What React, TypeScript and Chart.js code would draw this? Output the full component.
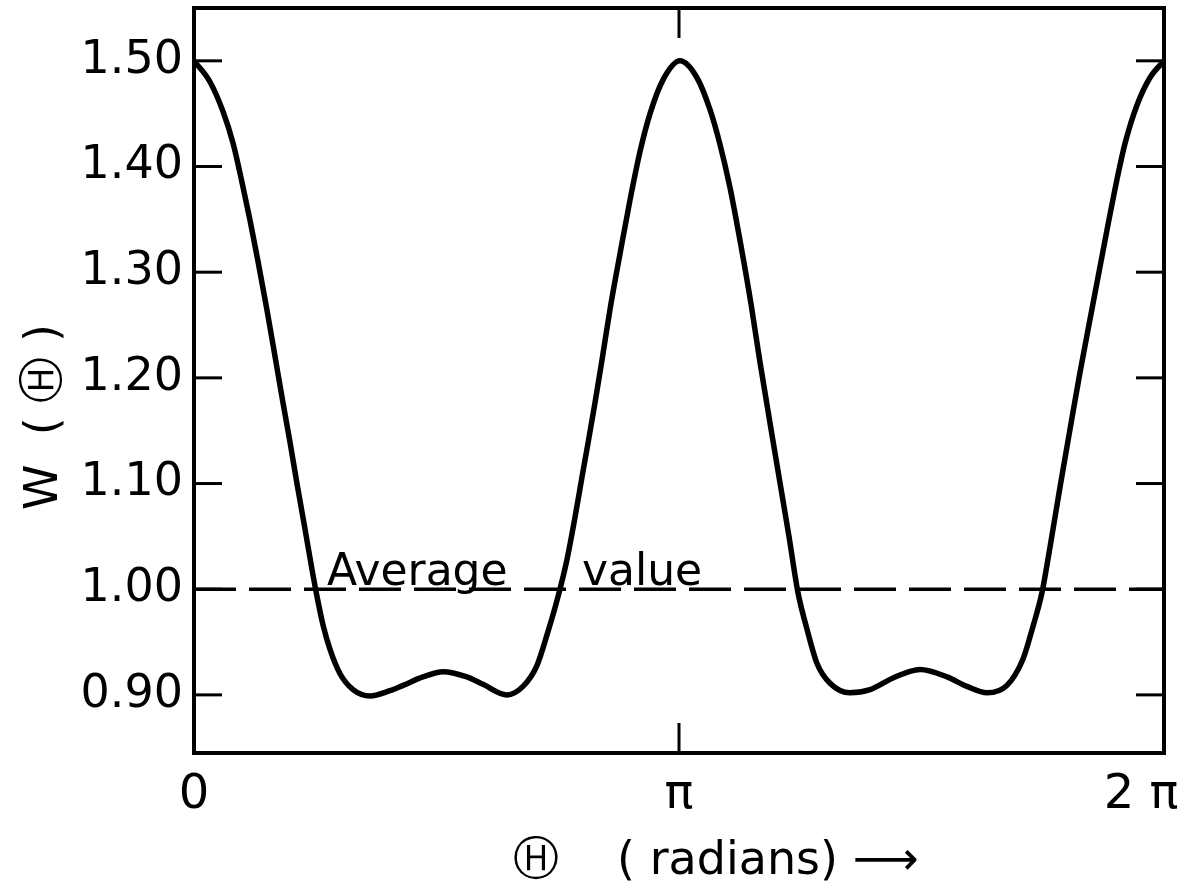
import React, { useEffect, useRef } from "react";
import { Chart, registerables } from "chart.js";

Chart.register(...registerables);

// Θ (radians)
const thetaValues = [
  0, 0.104, 0.188, 0.253, 0.311, 0.363, 0.415, 0.473, 0.538, 0.577, 0.622, 0.667, 0.719, 0.764,
  0.797, 0.836, 0.881, 0.946, 1.03, 1.14,
  1.27, 1.354, 1.483, 1.613, 1.768, 1.872, 2.027,
  2.131, 2.222, 2.287, 2.358, 2.416, 2.468, 2.513, 2.552, 2.597, 2.643, 2.695, 2.759, 2.824, 2.889,
  2.954, 3.038, 3.148,
  3.258, 3.342, 3.407, 3.472, 3.543, 3.608, 3.666, 3.776, 3.854, 3.912, 3.971, 4.035, 4.12, 4.249,
  4.379, 4.528, 4.703, 4.878, 5.007, 5.137,
  5.266, 5.37, 5.435, 5.493, 5.545, 5.61, 5.674, 5.739, 5.823, 5.914, 5.979, 6.031, 6.108, 6.192,
  6.283,
];
// W(Θ)
const wValues = [
  1.5, 1.48, 1.452, 1.422, 1.385, 1.349, 1.31, 1.264, 1.209, 1.176, 1.139, 1.1, 1.057, 1.019,
  0.993, 0.966, 0.943, 0.92, 0.905, 0.899,
  0.904, 0.909, 0.917, 0.922, 0.917, 0.91, 0.9,
  0.908, 0.928, 0.957, 0.993, 1.028, 1.068, 1.106, 1.138, 1.176, 1.217, 1.265, 1.317, 1.368, 1.414,
  1.45, 1.482, 1.5,
  1.484, 1.454, 1.421, 1.38, 1.325, 1.27, 1.215, 1.118, 1.05, 0.997, 0.962, 0.93, 0.911, 0.902,
  0.905, 0.916, 0.924, 0.917, 0.908, 0.902,
  0.909, 0.934, 0.965, 0.997, 1.04, 1.097, 1.151, 1.205, 1.27, 1.34, 1.388, 1.422, 1.458, 1.484,
  1.5,
];

const averageValue = 1.0;
const averageLine = [0, 2 * Math.PI];

const xTickValues = [0, Math.PI, 2 * Math.PI];
const xTickLabels = ["0", "π", "2 π\u00A0\u00A0\u00A0"];
const yTickValues = [0.9, 1.0, 1.1, 1.2, 1.3, 1.4, 1.5];
const yTickLabels = ["0.90", "1.00", "1.10", "1.20", "1.30", "1.40", "1.50"];

const xTitle = "\u00A0\u00A0\u00A0\u00A0\u00A0Ⓗ\u00A0\u00A0\u00A0\u00A0(\u00A0radians)\u00A0⟶";
const yTitle = "W\u00A0\u00A0(\u00A0Ⓗ\u00A0)\u00A0\u00A0\u00A0\u00A0\u00A0";

const noteTexts = ["Average", "value"];
const noteTheta = [0.861, 2.513];
const noteW = 1.004;

const FONT = '"DejaVu Sans", sans-serif';

const framePlugin = {
  id: "frameAndNotes",
  afterDatasetsDraw(chart: any) {
    const { ctx, chartArea, scales } = chart;
    const { left, right, top, bottom } = chartArea;
    const x = scales.x;
    const y = scales.y;
    ctx.save();
    ctx.strokeStyle = "#000";
    ctx.lineCap = "butt";
    ctx.lineWidth = 4;
    ctx.strokeRect(left, top, right - left, bottom - top);
    ctx.lineWidth = 3;
    const seg = (x1: number, y1: number, x2: number, y2: number) => {
      ctx.beginPath();
      ctx.moveTo(x1, y1);
      ctx.lineTo(x2, y2);
      ctx.stroke();
    };
    y.ticks.forEach((t: any) => {
      const py = y.getPixelForValue(t.value);
      seg(left, py, left + 28, py);
      seg(right, py, right - 28, py);
    });
    x.ticks.forEach((t: any) => {
      if (t.value > 0 && t.value < 2 * Math.PI) {
        const px = x.getPixelForValue(t.value);
        seg(px, bottom, px, bottom - 30);
        seg(px, top, px, top + 30);
      }
    });
    ctx.fillStyle = "#000";
    ctx.font = `44px ${FONT}`;
    ctx.textAlign = "left";
    ctx.textBaseline = "alphabetic";
    noteTexts.forEach((txt, i) => {
      ctx.fillText(txt, x.getPixelForValue(noteTheta[i]), y.getPixelForValue(noteW));
    });
    ctx.restore();
  },
};

export default function App() {
  const ref = useRef<HTMLCanvasElement | null>(null);
  useEffect(() => {
    document.body.style.margin = "0";
    const points = thetaValues.map((t, i) => ({ x: t, y: wValues[i] }));
    const avg = averageLine.map((t) => ({ x: t, y: averageValue }));
    const chart = new Chart(ref.current as HTMLCanvasElement, {
      type: "line",
      data: {
        datasets: [
          {
            data: avg,
            borderColor: "#000",
            borderWidth: 3.5,
            borderDash: [42, 13],
            pointRadius: 0,
            fill: false,
          },
          {
            data: points,
            borderColor: "#000",
            borderWidth: 5.5,
            pointRadius: 0,
            cubicInterpolationMode: "monotone",
            fill: false,
          },
        ],
      },
      options: {
        animation: false,
        responsive: true,
        maintainAspectRatio: false,
        layout: { padding: { top: 8, right: 22, left: 0, bottom: 0 } },
        plugins: { legend: { display: false }, tooltip: { enabled: false } },
        scales: {
          x: {
            type: "linear",
            min: 0,
            max: 2 * Math.PI,
            afterBuildTicks: (s: any) => {
              s.ticks = xTickValues.map((v) => ({ value: v }));
            },
            afterFit: (s: any) => {
              s.height = 143;
              s.paddingLeft = 0;
              s.paddingRight = 0;
            },
            grid: { display: false, drawTicks: false },
            border: { display: false },
            ticks: {
              autoSkip: false,
              maxRotation: 0,
              padding: 14,
              color: "#000",
              font: { family: FONT, size: 48 },
              callback: (_v: any, i: number) => xTickLabels[i],
            },
            title: {
              display: true,
              text: xTitle,
              color: "#000",
              font: { family: FONT, size: 46 },
              padding: { top: 0, bottom: 6 },
            },
          },
          y: {
            type: "linear",
            min: 0.845,
            max: 1.55,
            afterBuildTicks: (s: any) => {
              s.ticks = yTickValues.map((v) => ({ value: v }));
            },
            afterFit: (s: any) => {
              s.width = 194;
              s.paddingTop = 0;
              s.paddingBottom = 0;
            },
            grid: { display: false, drawTicks: false },
            border: { display: false },
            ticks: {
              autoSkip: false,
              padding: 11,
              color: "#000",
              font: { family: FONT, size: 46 },
              callback: (_v: any, i: number) => yTickLabels[i],
            },
            title: {
              display: true,
              text: yTitle,
              color: "#000",
              font: { family: FONT, size: 46 },
              padding: { top: 17, bottom: 0 },
            },
          },
        },
      },
      plugins: [framePlugin],
    } as any);
    return () => chart.destroy();
  }, []);
  return (
    <div style={{ width: 1186, height: 896, position: "relative", background: "#fff" }}>
      <canvas ref={ref} style={{ display: "block" }} />
    </div>
  );
}
